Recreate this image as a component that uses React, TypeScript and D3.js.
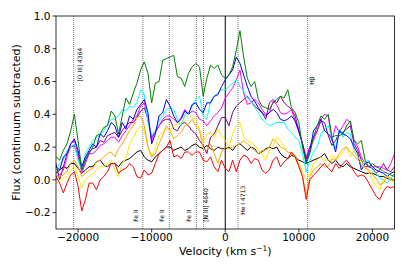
import React from "react";
import * as d3 from "d3";

// velocity grid of the spectra (km/s), one sample every 500 km/s
const velocity = d3.range(-23000, 23001, 500);

// continuum-subtracted flux for each epoch
const green = [0.14,0.12,0.18,0.22,0.30,0.40,0.24,0.06,0.12,0.16, 0.20,0.27,0.28,0.32,0.33,0.42,0.39,0.28,0.39,0.50, 0.46,0.53,0.59,0.67,0.72,0.65,0.47,0.59,0.60,0.73, 0.74,0.75,0.76,0.63,0.62,0.57,0.65,0.69,0.71,0.69, 0.51,0.62,0.70,0.68,0.70,0.64,0.62,0.64,0.69,0.79, 0.91,0.75,0.62,0.57,0.60,0.49,0.45,0.44,0.43,0.47, 0.49,0.51,0.50,0.55,0.44,0.41,0.35,0.20,0.10,0.16, 0.26,0.33,0.39,0.37,0.40,0.26,0.27,0.27,0.28,0.33, 0.36,0.24,0.22,0.24,0.12,0.08,0.10,0.08,0.07,0.05, 0.04,0.03,0.02];
const blue = [0.08,0.06,0.14,0.16,0.22,0.25,0.18,0.08,0.14,0.18, 0.22,0.20,0.28,0.26,0.30,0.35,0.33,0.26,0.35,0.31, 0.39,0.37,0.43,0.46,0.49,0.41,0.22,0.28,0.39,0.41, 0.49,0.45,0.39,0.35,0.37,0.42,0.40,0.46,0.47,0.43, 0.41,0.47,0.47,0.51,0.52,0.57,0.61,0.64,0.67,0.75, 0.71,0.64,0.57,0.51,0.48,0.44,0.41,0.39,0.41,0.43, 0.41,0.37,0.36,0.37,0.39,0.36,0.30,0.22,0.11,0.18, 0.30,0.33,0.37,0.30,0.28,0.25,0.17,0.30,0.28,0.27, 0.25,0.20,0.16,0.06,0.10,0.11,0.08,0.06,0.05,0.04, 0.02,0.04,0.05];
const cyan = [0.06,0.10,0.12,0.18,0.20,0.22,0.12,0.06,0.16,0.20, 0.24,0.26,0.27,0.30,0.34,0.37,0.37,0.39,0.43,0.42, 0.45,0.44,0.47,0.55,0.52,0.35,0.27,0.30,0.36,0.39, 0.43,0.44,0.43,0.37,0.33,0.40,0.41,0.45,0.49,0.51, 0.39,0.37,0.48,0.51,0.53,0.55,0.55,0.57,0.59,0.61, 0.57,0.54,0.50,0.48,0.44,0.41,0.37,0.35,0.33,0.34, 0.35,0.35,0.35,0.31,0.29,0.26,0.24,0.16,0.05,0.12, 0.17,0.20,0.28,0.31,0.33,0.26,0.19,0.31,0.26,0.29, 0.28,0.18,0.14,0.08,0.11,0.12,0.06,0.04,0.01,0.00, -0.02,0.01,0.04];
const magenta = [0.02,0.03,0.06,0.14,0.22,0.24,0.16,0.04,0.10,0.16, 0.16,0.18,0.21,0.22,0.24,0.26,0.26,0.23,0.27,0.30, 0.33,0.37,0.39,0.45,0.47,0.37,0.24,0.30,0.33,0.37, 0.39,0.39,0.37,0.35,0.38,0.43,0.40,0.42,0.41,0.37, 0.36,0.33,0.36,0.39,0.41,0.44,0.50,0.53,0.56,0.61, 0.67,0.53,0.46,0.47,0.49,0.47,0.43,0.40,0.41,0.48, 0.46,0.41,0.40,0.41,0.43,0.36,0.29,0.22,0.14,0.20, 0.24,0.30,0.37,0.40,0.39,0.24,0.33,0.29,0.33,0.37, 0.35,0.24,0.20,0.14,0.10,0.08,0.08,0.08,0.08,0.07, 0.06,0.10,0.16];
const purple = [0.10,0.00,0.08,0.16,0.20,0.21,0.14,0.06,0.12,0.17, 0.19,0.20,0.24,0.23,0.27,0.28,0.29,0.26,0.30,0.33, 0.35,0.35,0.38,0.42,0.44,0.37,0.26,0.29,0.33,0.36, 0.37,0.37,0.31,0.30,0.34,0.35,0.33,0.30,0.28,0.24, 0.21,0.16,0.26,0.28,0.33,0.38,0.38,0.33,0.41,0.45, 0.47,0.49,0.51,0.48,0.45,0.43,0.41,0.37,0.47,0.49, 0.47,0.51,0.47,0.45,0.43,0.39,0.30,0.22,0.13,0.20, 0.26,0.30,0.36,0.35,0.27,0.21,0.24,0.29,0.29,0.31, 0.33,0.22,0.18,0.12,0.08,0.08,0.07,0.04,0.06,0.10, 0.06,0.05,0.08];
const orange = [0.00,0.02,0.03,0.05,0.10,0.12,0.08,0.02,0.04,0.06, 0.07,0.11,0.12,0.14,0.16,0.17,0.14,0.19,0.22,0.26, 0.30,0.33,0.38,0.39,0.33,0.20,0.14,0.16,0.22,0.27, 0.33,0.30,0.25,0.27,0.29,0.33,0.34,0.37,0.33,0.30, 0.19,0.18,0.22,0.16,0.10,0.17,0.20,0.19,0.20,0.21, 0.22,0.24,0.22,0.20,0.18,0.16,0.18,0.18,0.20,0.25, 0.23,0.20,0.19,0.17,0.16,0.15,0.09,0.02,-0.09,0.02, 0.06,0.08,0.10,0.08,0.08,0.13,0.12,0.16,0.19,0.20, 0.17,0.15,0.12,0.10,0.07,0.06,0.03,0.01,-0.03,-0.02, 0.02,0.01,0.00];
const yellow = [-0.02,0.00,0.01,0.02,0.06,0.08,0.02,-0.05,0.00,0.02, 0.04,0.06,0.08,0.08,0.10,0.12,0.06,0.02,0.10,0.13, 0.22,0.26,0.30,0.33,0.30,0.20,0.14,0.20,0.27,0.29, 0.31,0.30,0.33,0.34,0.35,0.38,0.40,0.38,0.37,0.31, 0.23,0.28,0.29,0.26,0.31,0.27,0.24,0.20,0.28,0.33, 0.35,0.26,0.24,0.23,0.21,0.18,0.16,0.12,0.18,0.21, 0.26,0.24,0.20,0.17,0.16,0.14,0.10,0.05,0.00,0.04, 0.10,0.12,0.14,0.12,0.12,0.15,0.13,0.14,0.17,0.20, 0.14,0.18,0.14,0.11,0.08,0.05,0.00,-0.04,-0.06,0.00, 0.02,0.00,-0.02];
const black = [0.04,0.06,0.08,0.07,0.10,0.10,0.07,0.04,0.06,0.08, 0.08,0.11,0.12,0.09,0.08,0.10,0.10,0.08,0.11,0.12, 0.13,0.15,0.17,0.18,0.14,0.12,0.11,0.14,0.16,0.18, 0.20,0.20,0.18,0.19,0.20,0.18,0.19,0.21,0.22,0.20, 0.19,0.21,0.19,0.18,0.20,0.19,0.19,0.20,0.18,0.21, 0.22,0.20,0.18,0.20,0.19,0.16,0.17,0.19,0.20,0.19, 0.20,0.16,0.14,0.13,0.15,0.14,0.12,0.11,0.10,0.11, 0.12,0.13,0.14,0.16,0.12,0.10,0.12,0.09,0.08,0.10, 0.08,0.07,0.06,0.05,0.04,0.04,0.04,0.03,0.02,0.02, 0.01,0.00,0.00];
const red = [0.02,-0.02,-0.08,-0.02,0.03,0.05,-0.04,-0.19,-0.12,-0.02, -0.02,-0.06,0.00,0.02,0.05,0.10,0.10,0.04,0.06,0.07, 0.10,0.08,0.02,0.01,0.06,0.03,0.04,0.10,0.16,0.18, 0.20,0.24,0.14,0.15,0.13,0.17,0.17,0.15,0.17,0.17, 0.12,0.11,0.14,0.08,0.05,0.12,0.07,0.05,0.12,0.05, 0.12,0.15,0.14,0.10,0.13,0.12,0.06,0.04,0.06,0.12, 0.14,0.08,0.11,0.13,0.17,0.14,0.08,0.02,-0.12,0.00, 0.03,0.05,0.08,0.10,0.07,0.05,0.10,0.07,0.10,0.12, 0.09,0.05,0.02,0.03,0.02,-0.02,-0.06,-0.10,-0.12,-0.07, -0.04,-0.05,-0.04];

// line identifications (velocity relative to He II 4686)
const lineNames = ["[O III] 4364", "Fe II", "Fe II", "Fe II", "[N III] 4640", "He I 4713", "H\u03b2"];
const lineVelocities = [-20600, -11200, -7600, -3920, -2950, 1740, 11190];

const xTicks = [-20000, -10000, 0, 10000, 20000];
const yTicks = [-0.2, 0, 0.2, 0.4, 0.6, 0.8, 1.0];

const series = [
  { values: black, color: "#000000" },
  { values: purple, color: "#800080" },
  { values: magenta, color: "#ff00ff" },
  { values: cyan, color: "#00ffff" },
  { values: blue, color: "#0000ff" },
  { values: yellow, color: "#ffe600" },
  { values: orange, color: "#ffa500" },
  { values: red, color: "#ff0000" },
  { values: green, color: "#008000" },
];

// where each label sits: horizontal offset from its line (px) and flux at the text start
const labelPlacement = [
  { dx: 8.5, y: 0.6 },
  { dx: -5, y: -0.256 },
  { dx: -5, y: -0.256 },
  { dx: -5, y: -0.256 },
  { dx: 4.8, y: -0.256 },
  { dx: 6.6, y: -0.213 },
  { dx: 6.2, y: 0.58 },
];

const minus = (s: string) => s.replace("-", "\u2212");

export default function App() {
  const width = 407;
  const height = 271;
  const margin = { left: 56, right: 12.5, top: 16, bottom: 42 };
  const x0 = margin.left;
  const x1 = width - margin.right;
  const y0 = margin.top;
  const y1 = height - margin.bottom;

  const x = d3.scaleLinear().domain([-23000, 23000]).range([x0, x1]);
  const y = d3.scaleLinear().domain([-0.3, 1.0]).range([y1, y0]);

  const line = d3
    .line<number>()
    .x((_, i) => x(velocity[i]))
    .y((d) => y(d));

  const font = "DejaVu Sans, sans-serif";

  return (
    <div style={{ position: "absolute", left: 0, top: 0 }}>
      <svg width={width} height={height} style={{ display: "block", background: "#fff" }}>
        <defs>
          <clipPath id="plot">
            <rect x={x0} y={y0} width={x1 - x0} height={y1 - y0} />
          </clipPath>
        </defs>

        <g clipPath="url(#plot)">
          {/* line identifications */}
          {lineVelocities.map((v, i) => (
            <line
              key={"l" + i}
              x1={x(v)}
              x2={x(v)}
              y1={y0}
              y2={y1}
              stroke="#7a7a7a"
              strokeWidth={1}
              strokeDasharray="1,1"
            />
          ))}
          <line x1={x(0)} x2={x(0)} y1={y0} y2={y1} stroke="#000" strokeWidth={1} />

          {series.map((s, i) => (
            <path
              key={"s" + i}
              d={line(s.values) || ""}
              fill="none"
              stroke={s.color}
              strokeWidth={1}
              strokeLinejoin="round"
            />
          ))}
        </g>

        {lineNames.map((name, i) => {
          const px = x(lineVelocities[i]) + labelPlacement[i].dx;
          const py = y(labelPlacement[i].y);
          return (
            <text
              key={"t" + i}
              transform={`translate(${px},${py}) rotate(-90)`}
              fontFamily={font}
              fontSize={6}
              fill="#000"
            >
              {name}
            </text>
          );
        })}

        {/* frame */}
        <rect x={x0} y={y0} width={x1 - x0} height={y1 - y0} fill="none" stroke="#000" strokeWidth={0.8} />

        {/* x axis */}
        {xTicks.map((t) => (
          <g key={"x" + t} transform={`translate(${x(t)},${y1})`}>
            <line y2={3.5} stroke="#000" strokeWidth={0.8} />
            <text y={12.3} textAnchor="middle" fontFamily={font} fontSize={10.5} fill="#000">
              {minus(String(t))}
            </text>
          </g>
        ))}

        {/* y axis */}
        {yTicks.map((t) => (
          <g key={"y" + t} transform={`translate(${x0},${y(t)})`}>
            <line x2={-3.5} stroke="#000" strokeWidth={0.8} />
            <text x={-5.5} y={3.8} textAnchor="end" fontFamily={font} fontSize={10.5} fill="#000">
              {minus(t.toFixed(1))}
            </text>
          </g>
        ))}

        <text
          x={(x0 + x1) / 2}
          y={255}
          textAnchor="middle"
          fontFamily={font}
          fontSize={11}
          fill="#000"
        >
          Velocity (km s
          <tspan fontSize={7.5} dy={-4.5}>{"\u22121"}</tspan>
          <tspan dy={4.5}>)</tspan>
        </text>

        <text
          transform={`translate(20,${(y0 + y1) / 2}) rotate(-90)`}
          textAnchor="middle"
          fontFamily={font}
          fontSize={11}
          fill="#000"
        >
          Flux (continuum subtracted)
        </text>
      </svg>
    </div>
  );
}
